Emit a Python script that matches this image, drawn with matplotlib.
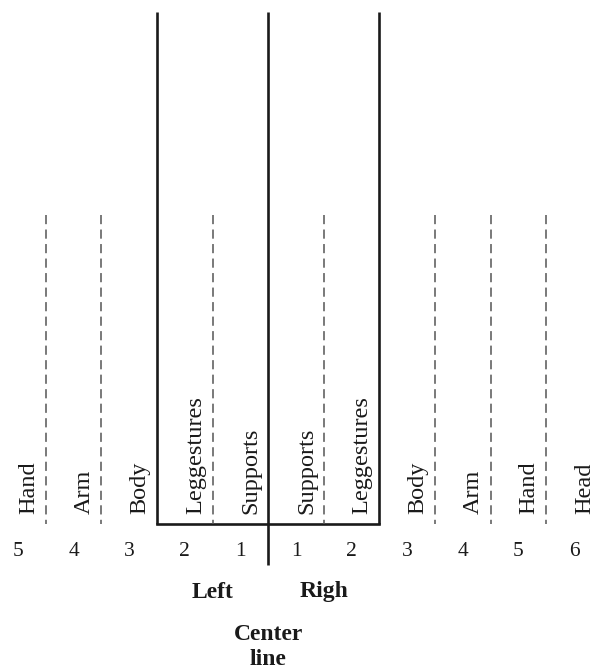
import matplotlib
matplotlib.use('Agg')
import matplotlib.pyplot as plt

# columns of the staff, left to right
numbers = [5, 4, 3, 2, 1, 1, 2, 3, 4, 5, 6]
labels = ['Hand', 'Arm', 'Body', 'Leggestures', 'Supports',
          'Supports', 'Leggestures', 'Body', 'Arm', 'Hand', 'Head']
solid_lines = [2.5, 4.5, 6.5]
dashed_lines = [0.5, 1.5, 3.5, 5.5, 7.5, 8.5, 9.5]
center = 4.5
side_labels = ['Left', 'Righ']
side_pos = [3.5, 5.5]

plt.rcParams['font.family'] = ['Liberation Serif', 'DejaVu Serif']
fig = plt.figure(figsize=(6, 6.72), dpi=100)
ax = fig.add_axes([0, 0, 1, 1])
ax.set_xlim(-0.324, 10.468)
ax.set_ylim(672, 0)
ax.axis('off')

col = '#1a1a1a'
top, bottom, tail, dash_top = 12, 524, 565, 215

for x in solid_lines:
    ax.plot([x, x], [top, tail if x == center else bottom], color=col, lw=1.9,
            solid_capstyle='butt')
ax.plot([solid_lines[0], solid_lines[-1]], [bottom, bottom], color=col, lw=1.9)
for x in dashed_lines:
    ax.plot([x, x], [dash_top, bottom], color='#555555', lw=1.1,
            dashes=(6, 3.5))

for i, (n, lab) in enumerate(zip(numbers, labels)):
    ax.text(i, 552, str(n), ha='center', va='center', fontsize=15.5, color=col)
    ax.text(i + 0.19, 514, lab, rotation=90, ha='center', va='bottom',
            fontsize=17.5, color=col)

for x, s in zip(side_pos, side_labels):
    ax.text(x, 592, s, ha='center', va='center',
            fontsize=17, fontweight='bold', color=col)
ax.text(center, 647, 'Center\nline', ha='center', va='center', fontsize=17,
        fontweight='bold', color=col, linespacing=1.3)

fig.savefig('out.png', dpi=100)
